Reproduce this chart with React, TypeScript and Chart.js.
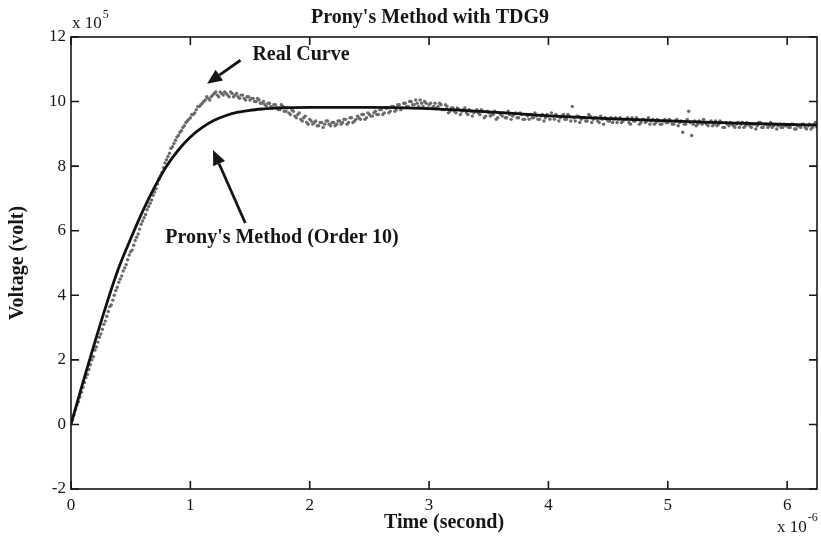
import React, { useEffect, useRef } from 'react';
import { Chart, registerables } from 'chart.js';

Chart.register(...registerables);

// Measured ("real") curve, voltage in units of 1e5 V, time in units of 1e-6 s
const realTime = [
  0, 0.025, 0.05, 0.075, 0.1, 0.125, 0.15, 0.175,
  0.2, 0.225, 0.25, 0.275, 0.3, 0.325, 0.35, 0.375,
  0.4, 0.425, 0.45, 0.475, 0.5, 0.525, 0.55, 0.575,
  0.6, 0.625, 0.65, 0.675, 0.7, 0.725, 0.75, 0.775,
  0.8, 0.825, 0.85, 0.875, 0.9, 0.925, 0.95, 0.975,
  1.0, 1.025, 1.05, 1.075, 1.1, 1.125, 1.15, 1.175,
  1.2, 1.225, 1.25, 1.275, 1.3, 1.325, 1.35, 1.375,
  1.4, 1.425, 1.45, 1.475, 1.5, 1.525, 1.55, 1.575,
  1.6, 1.625, 1.65, 1.675, 1.7, 1.725, 1.75, 1.775,
  1.8, 1.825, 1.85, 1.875, 1.9, 1.925, 1.95, 1.975,
  2.0, 2.025, 2.05, 2.075, 2.1, 2.125, 2.15, 2.175,
  2.2, 2.225, 2.25, 2.275, 2.3, 2.325, 2.35, 2.375,
  2.4, 2.425, 2.45, 2.475, 2.5, 2.525, 2.55, 2.575,
  2.6, 2.625, 2.65, 2.675, 2.7, 2.725, 2.75, 2.775,
  2.8, 2.825, 2.85, 2.875, 2.9, 2.925, 2.95, 2.975,
  3.0, 3.025, 3.05, 3.075, 3.1, 3.125, 3.15, 3.175,
  3.2, 3.225, 3.25, 3.275, 3.3, 3.325, 3.35, 3.375,
  3.4, 3.425, 3.45, 3.475, 3.5, 3.525, 3.55, 3.575,
  3.6, 3.625, 3.65, 3.675, 3.7, 3.725, 3.75, 3.775,
  3.8, 3.825, 3.85, 3.875, 3.9, 3.925, 3.95, 3.975,
  4.0, 4.025, 4.05, 4.075, 4.1, 4.125, 4.15, 4.175,
  4.2, 4.225, 4.25, 4.275, 4.3, 4.325, 4.35, 4.375,
  4.4, 4.425, 4.45, 4.475, 4.5, 4.525, 4.55, 4.575,
  4.6, 4.625, 4.65, 4.675, 4.7, 4.725, 4.75, 4.775,
  4.8, 4.825, 4.85, 4.875, 4.9, 4.925, 4.95, 4.975,
  5.0, 5.025, 5.05, 5.075, 5.1, 5.125, 5.15, 5.175,
  5.2, 5.225, 5.25, 5.275, 5.3, 5.325, 5.35, 5.375,
  5.4, 5.425, 5.45, 5.475, 5.5, 5.525, 5.55, 5.575,
  5.6, 5.625, 5.65, 5.675, 5.7, 5.725, 5.75, 5.775,
  5.8, 5.825, 5.85, 5.875, 5.9, 5.925, 5.95, 5.975,
  6.0, 6.025, 6.05, 6.075, 6.1, 6.125, 6.15, 6.175,
  6.2, 6.225, 6.25,
];

const realVolt = [
  0.05, 0.3, 0.6, 0.85, 1.15, 1.45, 1.7, 2.0,
  2.3, 2.55, 2.8, 3.1, 3.35, 3.65, 3.85, 4.15,
  4.4, 4.6, 4.85, 5.1, 5.35, 5.55, 5.8, 6.05,
  6.3, 6.5, 6.75, 6.95, 7.2, 7.45, 7.7, 7.95,
  8.2, 8.4, 8.6, 8.8, 8.95, 9.1, 9.25, 9.4,
  9.5, 9.6, 9.75, 9.85, 9.95, 10.05, 10.1, 10.15,
  10.25, 10.2, 10.3, 10.2, 10.25, 10.15, 10.25, 10.2,
  10.15, 10.2, 10.1, 10.15, 10.05, 10.1, 10.0, 10.05,
  9.95, 9.9, 9.95, 9.85, 9.9, 9.8, 9.75, 9.85,
  9.7, 9.65, 9.75, 9.55, 9.6, 9.45, 9.5, 9.35,
  9.45, 9.3, 9.4, 9.25, 9.35, 9.3, 9.4, 9.25,
  9.35, 9.3, 9.4, 9.35, 9.45, 9.35, 9.5, 9.4,
  9.55, 9.45, 9.6, 9.5, 9.6, 9.55, 9.7, 9.6,
  9.75, 9.65, 9.8, 9.7, 9.85, 9.75, 9.9, 9.8,
  9.95, 9.85, 10.0, 9.9, 9.95, 10.05, 9.85, 9.95,
  9.9, 9.8, 9.95, 9.85, 9.9, 9.75, 9.85, 9.7,
  9.8, 9.65, 9.75, 9.7, 9.8, 9.6, 9.7, 9.65,
  9.75, 9.6, 9.7, 9.55, 9.65, 9.6, 9.7, 9.5,
  9.6, 9.65, 9.5, 9.6, 9.55, 9.65, 9.5, 9.6,
  9.45, 9.55, 9.6, 9.5, 9.55, 9.45, 9.6, 9.5,
  9.55, 9.65, 9.45, 9.55, 9.5, 9.6, 9.45, 9.55,
  9.85, 9.4, 9.55, 9.45, 9.5, 9.4, 9.55, 9.45,
  9.5, 9.35, 9.45, 9.5, 9.4, 9.5, 9.45, 9.35,
  9.5, 9.4, 9.45, 9.35, 9.5, 9.4, 9.45, 9.35,
  9.45, 9.4, 9.3, 9.45, 9.35, 9.4, 9.3, 9.45,
  9.35, 9.4, 9.3, 9.45, 9.35, 9.05, 9.3, 9.7,
  8.95, 9.4, 9.3, 9.35, 9.45, 9.3, 9.35, 9.25,
  9.4, 9.3, 9.35, 9.2, 9.3, 9.35, 9.25, 9.3,
  9.2, 9.35, 9.25, 9.3, 9.2, 9.3, 9.25, 9.35,
  9.2, 9.3, 9.25, 9.2, 9.3, 9.25, 9.2, 9.3,
  9.25, 9.2, 9.3, 9.15, 9.25, 9.3, 9.2, 9.25,
  9.15, 9.3, 9.2,
];

// Interleaved second set of measured samples
const realTimeB = [
  0.0125, 0.0375, 0.0625, 0.0875, 0.1125, 0.1375, 0.1625, 0.1875,
  0.2125, 0.2375, 0.2625, 0.2875, 0.3125, 0.3375, 0.3625, 0.3875,
  0.4125, 0.4375, 0.4625, 0.4875, 0.5125, 0.5375, 0.5625, 0.5875,
  0.6125, 0.6375, 0.6625, 0.6875, 0.7125, 0.7375, 0.7625, 0.7875,
  0.8125, 0.8375, 0.8625, 0.8875, 0.9125, 0.9375, 0.9625, 0.9875,
  1.0125, 1.0375, 1.0625, 1.0875, 1.1125, 1.1375, 1.1625, 1.1875,
  1.2125, 1.2375, 1.2625, 1.2875, 1.3125, 1.3375, 1.3625, 1.3875,
  1.4125, 1.4375, 1.4625, 1.4875, 1.5125, 1.5375, 1.5625, 1.5875,
  1.6125, 1.6375, 1.6625, 1.6875, 1.7125, 1.7375, 1.7625, 1.7875,
  1.8125, 1.8375, 1.8625, 1.8875, 1.9125, 1.9375, 1.9625, 1.9875,
  2.0125, 2.0375, 2.0625, 2.0875, 2.1125, 2.1375, 2.1625, 2.1875,
  2.2125, 2.2375, 2.2625, 2.2875, 2.3125, 2.3375, 2.3625, 2.3875,
  2.4125, 2.4375, 2.4625, 2.4875, 2.5125, 2.5375, 2.5625, 2.5875,
  2.6125, 2.6375, 2.6625, 2.6875, 2.7125, 2.7375, 2.7625, 2.7875,
  2.8125, 2.8375, 2.8625, 2.8875, 2.9125, 2.9375, 2.9625, 2.9875,
  3.0125, 3.0375, 3.0625, 3.0875, 3.1125, 3.1375, 3.1625, 3.1875,
  3.2125, 3.2375, 3.2625, 3.2875, 3.3125, 3.3375, 3.3625, 3.3875,
  3.4125, 3.4375, 3.4625, 3.4875, 3.5125, 3.5375, 3.5625, 3.5875,
  3.6125, 3.6375, 3.6625, 3.6875, 3.7125, 3.7375, 3.7625, 3.7875,
  3.8125, 3.8375, 3.8625, 3.8875, 3.9125, 3.9375, 3.9625, 3.9875,
  4.0125, 4.0375, 4.0625, 4.0875, 4.1125, 4.1375, 4.1625, 4.1875,
  4.2125, 4.2375, 4.2625, 4.2875, 4.3125, 4.3375, 4.3625, 4.3875,
  4.4125, 4.4375, 4.4625, 4.4875, 4.5125, 4.5375, 4.5625, 4.5875,
  4.6125, 4.6375, 4.6625, 4.6875, 4.7125, 4.7375, 4.7625, 4.7875,
  4.8125, 4.8375, 4.8625, 4.8875, 4.9125, 4.9375, 4.9625, 4.9875,
  5.0125, 5.0375, 5.0625, 5.0875, 5.1125, 5.1375, 5.1625, 5.1875,
  5.2125, 5.2375, 5.2625, 5.2875, 5.3125, 5.3375, 5.3625, 5.3875,
  5.4125, 5.4375, 5.4625, 5.4875, 5.5125, 5.5375, 5.5625, 5.5875,
  5.6125, 5.6375, 5.6625, 5.6875, 5.7125, 5.7375, 5.7625, 5.7875,
  5.8125, 5.8375, 5.8625, 5.8875, 5.9125, 5.9375, 5.9625, 5.9875,
  6.0125, 6.0375, 6.0625, 6.0875, 6.1125, 6.1375, 6.1625, 6.1875,
  6.2125, 6.2375,
];

const realVoltB = [
  0.15, 0.45, 0.7, 1.0, 1.3, 1.55, 1.85, 2.1,
  2.4, 2.7, 2.95, 3.2, 3.5, 3.7, 4.0, 4.25,
  4.5, 4.75, 4.95, 5.25, 5.4, 5.7, 5.9, 6.2,
  6.4, 6.65, 6.85, 7.1, 7.3, 7.6, 7.8, 8.1,
  8.3, 8.55, 8.7, 8.9, 9.05, 9.2, 9.35, 9.45,
  9.6, 9.65, 9.85, 9.9, 10.0, 10.15, 10.05, 10.2,
  10.3, 10.15, 10.25, 10.3, 10.2, 10.3, 10.15, 10.25,
  10.1, 10.2, 10.05, 10.15, 10.1, 10.0, 10.1, 9.95,
  10.0, 9.85, 9.95, 9.8, 9.9, 9.75, 9.9, 9.7,
  9.8, 9.6, 9.7, 9.5, 9.65, 9.4, 9.55, 9.3,
  9.4, 9.35, 9.25, 9.35, 9.2, 9.4, 9.3, 9.35,
  9.25, 9.4, 9.3, 9.45, 9.3, 9.5, 9.35, 9.45,
  9.5, 9.6, 9.45, 9.65, 9.55, 9.65, 9.6, 9.75,
  9.6, 9.8, 9.65, 9.85, 9.7, 9.9, 9.75, 9.95,
  9.85, 10.0, 9.9, 10.05, 9.85, 9.95, 10.0, 9.8,
  9.95, 9.85, 9.8, 9.95, 9.75, 9.9, 9.65, 9.8,
  9.7, 9.8, 9.6, 9.75, 9.65, 9.75, 9.55, 9.7,
  9.65, 9.75, 9.5, 9.7, 9.55, 9.6, 9.45, 9.65,
  9.55, 9.5, 9.7, 9.45, 9.6, 9.5, 9.65, 9.45,
  9.6, 9.45, 9.5, 9.65, 9.45, 9.55, 9.4, 9.6,
  9.45, 9.55, 9.6, 9.4, 9.55, 9.45, 9.6, 9.4,
  9.5, 9.55, 9.35, 9.5, 9.4, 9.6, 9.35, 9.5,
  9.4, 9.55, 9.3, 9.45, 9.4, 9.35, 9.5, 9.45,
  9.35, 9.45, 9.5, 9.3, 9.4, 9.5, 9.3, 9.45,
  9.35, 9.5, 9.4, 9.3, 9.45, 9.3, 9.4, 9.35,
  9.45, 9.3, 9.4, 9.25, 9.4, 9.3, 9.45, 9.35,
  9.3, 9.25, 9.4, 9.3, 9.35, 9.25, 9.4, 9.3,
  9.25, 9.4, 9.2, 9.35, 9.25, 9.3, 9.2, 9.35,
  9.3, 9.2, 9.35, 9.25, 9.3, 9.15, 9.35, 9.2,
  9.3, 9.2, 9.35, 9.25, 9.15, 9.3, 9.2, 9.25,
  9.2, 9.3, 9.15, 9.25, 9.2, 9.3, 9.15, 9.3,
  9.2, 9.35,
];

// Prony's method (order 10) fit
const pronyTime = [
  0, 0.1, 0.2, 0.3, 0.4, 0.5, 0.6, 0.7, 0.8, 0.9, 1.0, 1.1, 1.2, 1.3, 1.4,
  1.5, 1.6, 1.7, 1.8, 2.0, 2.5, 3.0, 3.5, 4.0, 4.5, 5.0, 5.5, 6.0, 6.25,
];
const pronyVolt = [
  0, 1.3, 2.55, 3.75, 4.85, 5.75, 6.6, 7.35, 8.0, 8.5, 8.9, 9.2, 9.42, 9.57, 9.67,
  9.73, 9.77, 9.8, 9.81, 9.82, 9.82, 9.78, 9.68, 9.56, 9.47, 9.4, 9.34, 9.29, 9.27,
];

const xTicks = [0, 1, 2, 3, 4, 5, 6];
const yTicks = [-2, 0, 2, 4, 6, 8, 10, 12];

const titleText = "Prony's Method with TDG9";
const xTitle = 'Time (second)';
const yTitle = 'Voltage (volt)';
const realLabel = 'Real Curve';
const pronyLabel = "Prony's Method (Order 10)";

const FAMILY = '"Liberation Serif", "DejaVu Serif", serif';
const INK = '#161616';
const DOT = '#6a6a6a';

function arrow(ctx: CanvasRenderingContext2D, x1: number, y1: number, x2: number, y2: number) {
  const ang = Math.atan2(y2 - y1, x2 - x1);
  const hl = 15;
  const hw = 6.5;
  const bx = x2 - hl * Math.cos(ang);
  const by = y2 - hl * Math.sin(ang);
  ctx.beginPath();
  ctx.moveTo(x1, y1);
  ctx.lineTo(bx, by);
  ctx.lineWidth = 2.8;
  ctx.stroke();
  ctx.beginPath();
  ctx.moveTo(x2, y2);
  ctx.lineTo(bx + hw * Math.sin(ang), by - hw * Math.cos(ang));
  ctx.lineTo(bx - hw * Math.sin(ang), by + hw * Math.cos(ang));
  ctx.closePath();
  ctx.fill();
}

const decor = {
  id: 'decor',
  afterDraw(chart: any) {
    const { ctx, chartArea: a } = chart;
    const x = chart.scales.x;
    const y = chart.scales.y;
    ctx.save();
    ctx.strokeStyle = INK;
    ctx.fillStyle = INK;
    ctx.lineWidth = 1.6;
    ctx.strokeRect(a.left, a.top, a.right - a.left, a.bottom - a.top);
    ctx.beginPath();
    xTicks.forEach((v) => {
      const px = x.getPixelForValue(v);
      ctx.moveTo(px, a.bottom);
      ctx.lineTo(px, a.bottom - 8);
      ctx.moveTo(px, a.top);
      ctx.lineTo(px, a.top + 8);
    });
    yTicks.forEach((v) => {
      const py = y.getPixelForValue(v);
      ctx.moveTo(a.left, py);
      ctx.lineTo(a.left + 8, py);
      ctx.moveTo(a.right, py);
      ctx.lineTo(a.right - 8, py);
    });
    ctx.stroke();

    // title
    ctx.textBaseline = 'middle';
    ctx.textAlign = 'center';
    ctx.font = `bold 20px ${FAMILY}`;
    ctx.fillText(titleText, 430, 18);

    // exponent labels
    ctx.textAlign = 'left';
    ctx.font = `17px ${FAMILY}`;
    ctx.fillText('x 10', a.left + 1, 24);
    const w1 = ctx.measureText('x 10').width;
    ctx.font = `12px ${FAMILY}`;
    ctx.fillText('5', a.left + 2 + w1, 15);

    ctx.font = `17px ${FAMILY}`;
    const w2 = ctx.measureText('x 10').width;
    const ex = a.right - 40;
    ctx.fillText('x 10', ex, 528);
    ctx.font = `12px ${FAMILY}`;
    ctx.fillText('-6', ex + w2 + 1, 518);

    // annotations
    ctx.font = `bold 20px ${FAMILY}`;
    ctx.textAlign = 'left';
    ctx.fillText(realLabel, x.getPixelForValue(1.52), y.getPixelForValue(11.44));
    arrow(ctx, x.getPixelForValue(1.42), y.getPixelForValue(11.28), x.getPixelForValue(1.14), y.getPixelForValue(10.55));
    ctx.fillText(pronyLabel, x.getPixelForValue(0.79), y.getPixelForValue(5.78));
    arrow(ctx, x.getPixelForValue(1.46), y.getPixelForValue(6.24), x.getPixelForValue(1.19), y.getPixelForValue(8.5));
    ctx.restore();
  },
};

export default function App() {
  const ref = useRef<HTMLCanvasElement | null>(null);
  useEffect(() => {
    if (!ref.current) return;
    const chart = new Chart(ref.current, {
      type: 'scatter',
      data: {
        datasets: [
          {
            type: 'line',
            label: pronyLabel,
            data: pronyTime.map((t, i) => ({ x: t, y: pronyVolt[i] })),
            borderColor: '#111',
            borderWidth: 2.8,
            pointRadius: 0,
            cubicInterpolationMode: 'monotone',
            fill: false,
          } as any,
          {
            label: realLabel,
            data: realTime.map((t, i) => ({ x: t, y: realVolt[i] })),
            backgroundColor: DOT,
            borderColor: DOT,
            borderWidth: 0,
            pointRadius: 1.7,
            showLine: false,
          },
          {
            label: realLabel + ' (b)',
            data: realTimeB.map((t, i) => ({ x: t, y: realVoltB[i] })),
            backgroundColor: DOT,
            borderColor: DOT,
            borderWidth: 0,
            pointRadius: 1.7,
            showLine: false,
          },
        ],
      },
      options: {
        animation: false,
        responsive: false,
        maintainAspectRatio: false,
        layout: { padding: { top: 37, right: 2, left: 0, bottom: 0 } },
        plugins: {
          legend: { display: false },
          tooltip: { enabled: false },
          title: { display: false },
        },
        scales: {
          x: {
            type: 'linear',
            min: 0,
            max: 6.25,
            grid: { display: false, drawTicks: false },
            border: { display: false },
            ticks: {
              padding: 6,
              color: INK,
              font: { family: FAMILY, size: 17 },
              maxRotation: 0,
              autoSkip: false,
              callback: (v: any) => String(v),
            },
            afterBuildTicks: (s: any) => {
              s.ticks = xTicks.map((v) => ({ value: v }));
            },
            afterFit: (s: any) => {
              s.height = 49;
            },
            title: {
              display: true,
              text: xTitle,
              color: INK,
              font: { family: FAMILY, size: 20, weight: 'bold' },
              padding: { top: 0, bottom: 3 },
            },
          },
          y: {
            type: 'linear',
            min: -2,
            max: 12,
            grid: { display: false, drawTicks: false },
            border: { display: false },
            ticks: {
              padding: 5,
              color: INK,
              font: { family: FAMILY, size: 17 },
              autoSkip: false,
              callback: (v: any) => String(v),
            },
            afterBuildTicks: (s: any) => {
              s.ticks = yTicks.map((v) => ({ value: v }));
            },
            afterFit: (s: any) => {
              s.width = 71;
            },
            title: {
              display: true,
              text: yTitle,
              color: INK,
              font: { family: FAMILY, size: 20, weight: 'bold' },
              padding: { top: 6, bottom: 0 },
            },
          },
        },
      },
      plugins: [decor],
    } as any);
    return () => chart.destroy();
  }, []);
  return (
    <div style={{ position: 'fixed', left: 0, top: 0, width: 821, height: 538, background: '#fff' }}>
      <canvas ref={ref} width={821} height={538} style={{ display: 'block' }} />
    </div>
  );
}
